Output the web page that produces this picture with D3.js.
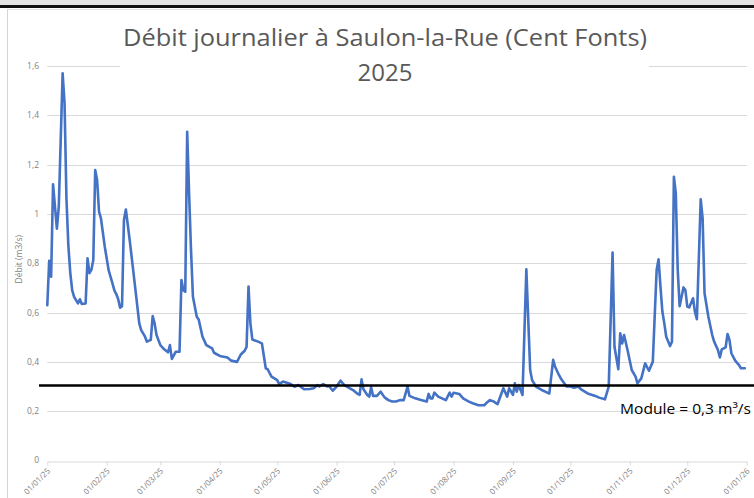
<!DOCTYPE html>
<html>
<head>
<meta charset="utf-8">
<script src="https://cdn.jsdelivr.net/npm/d3@7"></script>
<style>
  html, body { margin: 0; padding: 0; background: #fff; }
  svg { display: block; }
</style>
</head>
<body>
<svg id="chart" width="754" height="498"></svg>
<script>
// ---- Data ----
const titleLine1 = "Débit journalier à Saulon-la-Rue (Cent Fonts)";
const titleLine2 = "2025";
const yAxisTitle = "Débit (m3/s)";
const moduleLabel = "Module = 0,3 m³/s";
const moduleValue = 0.3;
const yTickValues = [0, 0.2, 0.4, 0.6, 0.8, 1, 1.2, 1.4, 1.6];

// day offsets from 01/01/2025
const dayOffsets = [
  0,1,2,3,5,6,8,9,10,11,12,13,14,16,17,18,20,21,22,23,24,25,26,27,28,30,32,34,35,36,37,38,39,40,41,43,45,47,48,49,51,52,54,55,56,57,59,61,63,64,65,67,69,
  70,71,72,73,74,75,76,78,79,81,83,86,87,90,94,96,99,101,103,104,105,106,107,110,112,114,115,117,120,121,123,127,129,131,134,137,139,141,142,144,146,147,149,
  151,153,155,157,160,162,163,164,165,167,168,169,170,172,174,176,178,180,182,184,186,188,189,192,195,198,199,200,201,202,204,206,208,210,211,212,215,217,
  220,222,225,228,229,231,233,235,237,238,240,241,243,244,245,246,248,250,252,253,255,258,261,262,263,264,265,267,268,271,273,275,277,279,282,286,288,291,
  293,295,296,298,299,300,301,303,305,307,308,310,312,314,316,318,319,320,321,322,323,325,326,327,328,329,330,332,333,334,335,337,338,339,341,342,343,345,
  347,348,350,351,352,354,355,356,357,359,361,362,364
];
const flows = [
  0.63,0.81,0.745,1.12,0.94,1.03,1.57,1.45,1.06,0.87,0.76,0.69,0.664,0.637,0.654,0.635,0.637,0.82,0.76,0.773,0.813,1.178,1.137,1.009,0.982,0.867,0.772,0.718,0.69,0.675,0.654,0.62,0.626,0.975,1.018,0.894,0.76,0.624,0.556,0.529,0.502,0.482,0.489,0.586,0.556,0.509,0.468,0.451,0.439,0.468,0.412,0.441,0.441,
  0.732,0.691,0.685,1.333,1.083,0.854,0.664,0.583,0.572,0.502,0.468,0.455,0.437,0.424,0.418,0.405,0.40,0.43,0.445,0.461,0.705,0.556,0.491,0.482,0.475,0.374,0.37,0.34,0.326,0.31,0.32,0.31,0.299,0.306,0.289,0.29,0.293,0.306,0.3,0.31,0.3,0.302,0.283,
  0.3,0.324,0.306,0.297,0.283,0.27,0.266,0.329,0.289,0.266,0.259,0.297,0.262,0.262,0.279,0.256,0.245,0.239,0.239,0.245,0.245,0.3,0.262,0.252,0.245,0.239,0.27,0.252,0.252,0.275,0.259,0.252,0.245,0.275,0.259,0.275,0.27,0.252,
  0.239,0.232,0.224,0.224,0.232,0.245,0.239,0.229,0.272,0.293,0.259,0.293,0.266,0.313,0.279,0.306,0.266,0.775,0.367,0.326,0.3,0.286,0.275,0.272,0.34,0.408,0.38,0.347,0.333,0.3,0.3,0.295,0.3,0.286,0.272,0.262,0.255,0.248,
  0.3,0.843,0.461,0.37,0.516,0.475,0.509,0.441,0.367,0.34,0.313,0.333,0.394,0.364,0.401,0.773,0.816,0.705,0.603,0.556,0.502,0.464,0.482,1.151,1.083,0.773,0.626,0.702,0.691,0.624,0.621,0.658,0.603,0.573,1.059,0.982,0.678,0.583,
  0.509,0.482,0.448,0.418,0.451,0.459,0.513,0.489,0.435,0.405,0.387,0.374,0.374
];

// ---- Drawing ----
const svg = d3.select("#chart");
const W = 754, H = 498;
const start = new Date(2025, 0, 1);
const end = new Date(2026, 0, 1);
const data = dayOffsets.map((d, i) => ({ date: d3.timeDay.offset(start, d), v: flows[i] }));

const x = d3.scaleTime().domain([start, end]).range([47.3, 746.7]);
const y = d3.scaleLinear().domain([0, 1.6]).range([460.5, 66]);

// page frame
svg.append("rect").attr("x", 0).attr("y", 0).attr("width", W).attr("height", H).attr("fill", "#fff");
svg.append("rect").attr("x", 0).attr("y", 0).attr("width", W).attr("height", 5).attr("fill", "#e4e4e4");
svg.append("rect").attr("x", 0).attr("y", 5).attr("width", W).attr("height", 3).attr("fill", "#111");
svg.append("line").attr("x1", 7.5).attr("x2", 7.5).attr("y1", 9).attr("y2", H).attr("stroke", "#d4d4d4");
svg.append("line").attr("x1", 7.5).attr("x2", W).attr("y1", 9.5).attr("y2", 9.5).attr("stroke", "#e4e4e4");

// gridlines
const grid = svg.append("g");
grid.selectAll("line").data(yTickValues.filter(v => v > 0)).join("line")
  .attr("x1", x.range()[0]).attr("x2", x.range()[1])
  .attr("y1", d => Math.round(y(d)) + 0.5).attr("y2", d => Math.round(y(d)) + 0.5)
  .attr("stroke", "#d9d9d9").attr("stroke-width", 1);

// x axis
const xAxis = d3.axisBottom(x)
  .tickValues(d3.timeMonth.range(start, d3.timeMonth.offset(end, 1)))
  .tickFormat(d3.timeFormat("%d/%m/%y"))
  .tickSize(4).tickSizeOuter(0);
const gx = svg.append("g").attr("transform", `translate(0,${Math.round(y(0)) + 0.5})`).call(xAxis);
gx.select(".domain").attr("stroke", "#d9d9d9");
gx.selectAll(".tick line").attr("stroke", "#d9d9d9");
gx.selectAll(".tick text")
  .attr("fill", "#7f7f7f")
  .style("font-family", "'Open Sans', 'Liberation Sans', sans-serif")
  .style("font-size", "8px")
  .attr("text-anchor", "end")
  .attr("dy", null).attr("y", 0)
  .attr("transform", "translate(3,10) rotate(-45)");

// y axis labels
const fmt = v => String(+v.toFixed(1)).replace(".", ",");
svg.append("g").selectAll("text").data(yTickValues).join("text")
  .attr("x", 39).attr("y", d => y(d)).attr("dy", "0.35em")
  .attr("text-anchor", "end")
  .attr("fill", "#7f7f7f")
  .style("font-family", "'Open Sans', 'Liberation Sans', sans-serif")
  .style("font-size", "8.5px")
  .text(fmt);

svg.append("text")
  .attr("transform", `translate(22,${(y(0) + y(1.6)) / 2 - 4}) rotate(-90)`)
  .attr("text-anchor", "middle")
  .attr("fill", "#7f7f7f")
  .style("font-family", "'Open Sans', 'Liberation Sans', sans-serif")
  .style("font-size", "8.5px")
  .text(yAxisTitle);

// title box (hides gridline behind the title)
svg.append("rect").attr("x", 120).attr("y", 18).attr("width", 529).attr("height", 70).attr("fill", "#fff");
svg.append("text")
  .attr("x", 385).attr("y", 45.5).attr("text-anchor", "middle")
  .attr("fill", "#595959")
  .style("font-family", "'Open Sans', 'Liberation Sans', sans-serif")
  .style("font-size", "24px")
  .attr("textLength", 524).attr("lengthAdjust", "spacingAndGlyphs")
  .text(titleLine1);
svg.append("text")
  .attr("x", 385).attr("y", 81).attr("text-anchor", "middle")
  .attr("fill", "#595959")
  .style("font-family", "'Open Sans', 'Liberation Sans', sans-serif")
  .style("font-size", "24px")
  .text(titleLine2);

// data line
const line = d3.line().x(d => x(d.date)).y(d => y(d.v));
svg.append("path").datum(data)
  .attr("d", line)
  .attr("fill", "none")
  .attr("stroke", "#4472C4")
  .attr("stroke-width", 2.6)
  .attr("stroke-linejoin", "round")
  .attr("stroke-linecap", "round");

// module line
svg.append("line")
  .attr("x1", 39).attr("x2", W)
  .attr("y1", y(moduleValue) - 1).attr("y2", y(moduleValue) - 1)
  .attr("stroke", "#000").attr("stroke-width", 2.6);

svg.append("text")
  .attr("x", 620).attr("y", 414)
  .attr("fill", "#000")
  .style("font-family", "'Open Sans', 'Liberation Sans', sans-serif")
  .style("font-size", "14px")
  .attr("textLength", 131).attr("lengthAdjust", "spacingAndGlyphs")
  .text(moduleLabel);
</script>
</body>
</html>
